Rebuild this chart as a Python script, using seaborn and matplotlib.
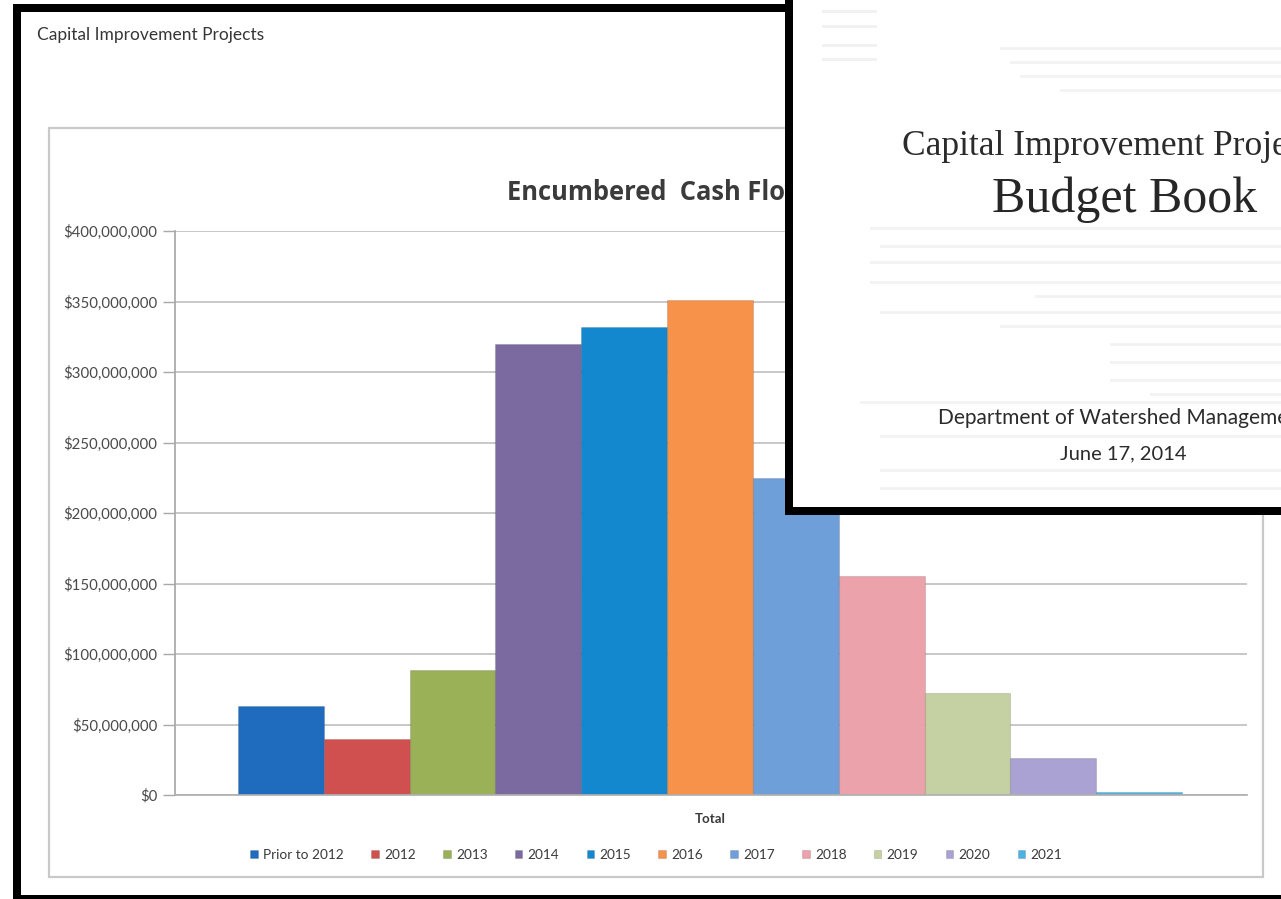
import matplotlib
matplotlib.use("Agg")
import matplotlib.pyplot as plt
import pandas as pd
import seaborn as sns
from matplotlib.patches import Rectangle
from matplotlib.ticker import FuncFormatter

# ---- data -------------------------------------------------------------
years = ["Prior to 2012", "2012", "2013", "2014", "2015", "2016",
         "2017", "2018", "2019", "2020", "2021"]
amounts = [63_000_000, 40_000_000, 89_000_000, 320_000_000, 332_000_000,
           351_000_000, 225_000_000, 155_000_000, 72_000_000, 26_000_000,
           2_000_000]
bar_colors = ["#1f6cbf", "#d0504f", "#9bb158", "#7b6a9f", "#1488cf",
              "#f7924b", "#6f9fd9", "#eba2ab", "#c6d1a3", "#a9a2d2",
              "#4cb3e2"]
y_ticks = [0, 50_000_000, 100_000_000, 150_000_000, 200_000_000,
           250_000_000, 300_000_000, 350_000_000, 400_000_000]
category = "Total"
chart_title = "Encumbered  Cash Flow"
page_header = "Capital Improvement Projects"
cover_lines = ["Capital Improvement Projects", "Budget Book",
               "Department of Watershed Management", "June 17, 2014"]

df = pd.DataFrame({"group": [category] * len(years),
                   "year": years, "amount": amounts})

# ---- figure -----------------------------------------------------------
W, H = 1281, 899
sns.set_theme(style="white")
plt.rcParams["font.family"] = ["Lato", "DejaVu Sans"]
fig = plt.figure(figsize=(W / 100, H / 100), dpi=100)
fig.patch.set_facecolor("white")


def px_axes(x0, y0, x1, y1, z):
    return fig.add_axes([x0 / W, 1 - y1 / H, (x1 - x0) / W, (y1 - y0) / H],
                        zorder=z)


# page background layer (pixel coordinates, origin top-left)
bg = px_axes(0, 0, W, H, 0)
bg.set_xlim(0, W)
bg.set_ylim(H, 0)
bg.axis("off")
bg.add_patch(Rectangle((49, 128), 1263 - 49, 877 - 128, fill=False,
                       edgecolor="#c9c9c9", lw=1.6))
bg.text(37, 35, page_header, fontsize=12.5, color="#363636", va="center",
        ha="left")
bg.text(507, 193, chart_title, family=["Open Sans", "DejaVu Sans"],
        fontsize=18.4, fontweight="bold", color="#3b3b3b", va="center",
        ha="left")

# ---- bar chart --------------------------------------------------------
ax = px_axes(175, 231, 1247, 795, 1)
ax.set_facecolor("none")
sns.barplot(data=df, x="group", y="amount", hue="year", hue_order=years,
            palette=bar_colors, saturation=1, width=0.8806, ax=ax,
            edgecolor=(0, 0, 0, 0.12), linewidth=0.8)
ax.set_xlim(-0.4991, 0.5009)
ax.set_ylim(0, 400_000_000)
ax.set_yticks(y_ticks)
ax.yaxis.set_major_formatter(FuncFormatter(lambda v, _: f"${v:,.0f}"))
ax.yaxis.grid(True, color="#b9b9b9", lw=1.1)
ax.set_axisbelow(True)
ax.set_xlabel("")
ax.set_ylabel("")
for side in ("top", "right"):
    ax.spines[side].set_visible(False)
ax.spines["left"].set_color("#a8a8a8")
ax.spines["bottom"].set_color("#b0b0b0")
ax.tick_params(axis="y", length=8.5, width=1, color="#a8a8a8",
               labelsize=10.8, labelcolor="#4a4a4a", pad=4, left=True)
ax.tick_params(axis="x", length=0, labelsize=9.5, labelcolor="#3a3a3a",
               pad=13)
for t in ax.get_xticklabels():
    t.set_fontweight("bold")

sns.move_legend(ax, "center", bbox_to_anchor=(0.449, -0.106), ncol=11,
                frameon=False, title=None, fontsize=9.8,
                handlelength=0.55, handleheight=0.55, handletextpad=0.4,
                columnspacing=2.0, labelcolor="#3a3a3a")

# ---- frame and cover page overlay -------------------------------------
ov = px_axes(0, 0, W, H, 5)
ov.set_xlim(0, W)
ov.set_ylim(H, 0)
ov.axis("off")
ov.patch.set_alpha(0)

# black page frame
ov.add_patch(Rectangle((13, 4), 8, 895, color="black", lw=0))
ov.add_patch(Rectangle((13, 4), 780, 8, color="black", lw=0))
ov.add_patch(Rectangle((13, 895), W - 13, 5, color="black", lw=0))

# cover page card
ov.add_patch(Rectangle((785, -5), 520, 520, facecolor="white", lw=0))
# faint print-through lines on the cover sheet
faint = "#f3f3f3"
for x0, x1, yy in [(1000, 1281, 48), (1010, 1281, 62), (1020, 1281, 76),
                   (1060, 1281, 90), (870, 1281, 228), (880, 1281, 246),
                   (870, 1281, 262), (870, 1281, 282), (1035, 1281, 296),
                   (880, 1281, 312), (1000, 1281, 326), (1110, 1281, 344),
                   (1110, 1281, 362), (1110, 1281, 380), (1150, 1281, 394),
                   (860, 1281, 402), (880, 1281, 436), (880, 1281, 470),
                   (880, 1281, 488)]:
    ov.add_patch(Rectangle((x0, yy - 1.5), x1 - x0, 3, color=faint, lw=0))
for yy in (10, 25, 44, 58):
    ov.add_patch(Rectangle((822, yy), 55, 2.5, color="#f1f1f1", lw=0))

ov.add_patch(Rectangle((785, -5), 8, 520, color="black", lw=0))
ov.add_patch(Rectangle((785, 507), 520, 8, color="black", lw=0))

ov.text(902, 155, cover_lines[0], family=["Liberation Serif", "DejaVu Serif"],
        fontsize=25.5, color="#2b2b2b", ha="left", va="baseline")
ov.text(1125, 212, cover_lines[1], family=["Liberation Serif", "DejaVu Serif"],
        fontsize=36, color="#262626", ha="center", va="baseline")
ov.text(938, 418, cover_lines[2], fontsize=15, color="#2b2b2b",
        ha="left", va="center")
ov.text(1123, 454, cover_lines[3], fontsize=14.5, color="#2b2b2b",
        ha="center", va="center")

fig.savefig("out.png", dpi=100, facecolor="white")
